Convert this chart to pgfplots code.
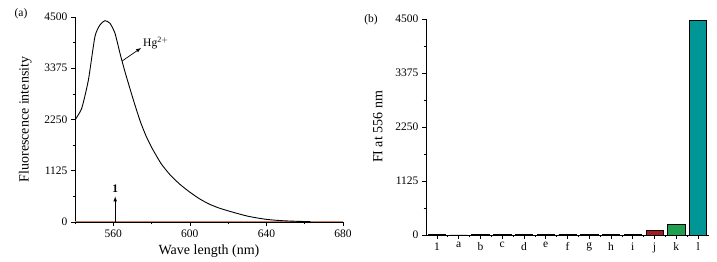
\documentclass[border=0pt]{standalone}
\usepackage{pgfplots}
\pgfplotsset{compat=1.18}
\usepackage{fontspec}
\setmainfont{Liberation Serif}
\definecolor{zeroline}{RGB}{196,128,96}
\definecolor{barj}{RGB}{165,25,35}
\definecolor{bark}{RGB}{30,160,80}
\definecolor{barl}{RGB}{0,150,150}
\begin{document}
\begin{tikzpicture}
\path (0pt,0pt) rectangle (717pt,261pt);
\pgfplotsset{
  every axis/.append style={
    scale only axis,
    axis lines=left,
    axis line style={-, line width=0.8pt},
    tick style={black, line width=0.7pt},
    major tick length=4pt,
    minor tick length=2.5pt,
    tick align=outside,
    /pgf/number format/assume math mode=true,
    ticklabel style={font=\fontsize{11.5}{13}\selectfont},
    label style={font=\fontsize{14}{16}\selectfont},
    ymin=0, ymax=4500,
    ytick={0,1125,2250,3375,4500},
    minor ytick={562.5,1687.5,2812.5,3937.5},
    yticklabel style={/pgf/number format/.cd, fixed, 1000 sep={}},
    scaled y ticks=false,
  }
}
\begin{axis}[
  at={(75pt,39pt)}, anchor=south west,
  width=268pt, height=205pt,
  xmin=540, xmax=680,
  xtick={560,600,640,680},
  minor xtick={540,580,620,660},
  xticklabel style={/pgf/number format/.cd, 1000 sep={}},
  xlabel={Wave length (nm)},
  ylabel={Fluorescence intensity},
  xlabel style={yshift=-1pt},
  ylabel style={yshift=6pt},
  clip=false,
]
\addplot[zeroline, line width=1pt] coordinates {(540,0) (680,0)};
\addplot[black, line width=0.9pt, smooth, tension=0.35] coordinates {
(540,2240) (543.5,2495) (547,3117) (550.4,4068) (553,4324) (555.7,4419)
(558.3,4361) (560.9,4142) (563.5,3703) (566.1,3299) (570.5,2678) (574,2220)
(577,1900) (580,1640) (585,1280) (590,1020) (595,820) (600,655) (605,510)
(610,395) (615,310) (620,245) (625,185) (630,130) (635,90) (640,58) (645,38)
(650,25) (656,15) (663,8)
};
\draw[-latex, line width=0.7pt] (axis cs:564.6,3534) -- (axis cs:574.5,3820);
\node[anchor=west, font=\fontsize{11.5}{13}\selectfont, inner sep=1pt] at (axis cs:575,3930) {Hg$^{\mathrm{2+}}$};
\draw[-latex, line width=0.7pt] (axis cs:561,0) -- (axis cs:561,560);
\node[font=\fontsize{11.5}{13}\selectfont\bfseries, inner sep=0pt] at (axis cs:561,720) {1};
\end{axis}
\node[font=\fontsize{11.5}{13}\selectfont] at (21pt,247pt) {(a)};
\begin{axis}[
  at={(426pt,26pt)}, anchor=south west,
  width=283pt, height=216pt,
  xmin=-0.5, xmax=12.5,
  xtick={0,...,12},
  minor xtick={0.5,1.5,...,11.5},
  xticklabels={1,a,b,c,d,e,f,g,h,i,j,k,l},
  ylabel={FI at 556 nm},
  ylabel style={yshift=6pt},
  clip=false,
]
\addplot[ybar, bar width=17.3pt, draw=black, fill=black, line width=0.6pt] coordinates {
(0,18) (1,0) (2,18) (3,18) (4,18) (5,18) (6,18) (7,18) (8,18) (9,18)
};
\addplot[ybar, bar width=17.3pt, draw=black, fill=barj, line width=0.6pt] coordinates {(10,97)};
\addplot[ybar, bar width=17.3pt, draw=black, fill=bark, line width=0.6pt] coordinates {(11,223)};
\addplot[ybar, bar width=17.3pt, draw=black, fill=barl, line width=0.6pt] coordinates {(12,4465)};
\end{axis}
\node[font=\fontsize{11.5}{13}\selectfont] at (371pt,241pt) {(b)};
\end{tikzpicture}
\end{document}
